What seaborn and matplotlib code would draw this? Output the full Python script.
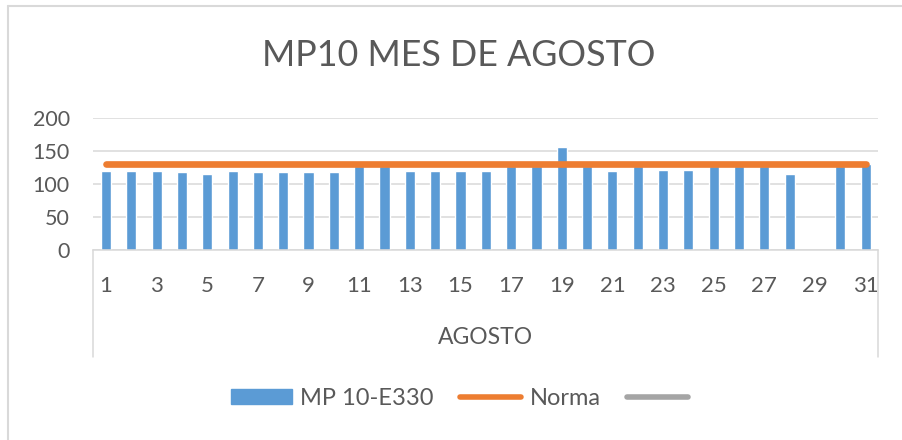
import numpy as np
import pandas as pd
import matplotlib
matplotlib.use("Agg")
import matplotlib.pyplot as plt
import seaborn as sns
from matplotlib.patches import Patch
from matplotlib.lines import Line2D

# ---- data ----
days = [str(d) for d in range(1, 32)]
mp10 = [120, 120, 120, 118, 115, 120, 118, 118, 118, 118,
        127, 127, 120, 120, 120, 120, 127, 127, 157, 127,
        120, 127, 122, 122, 127, 127, 127, 115, np.nan, 127, 130]
norma = [130] * 31
tick_labels = [d if int(d) % 2 == 1 else "" for d in days]
group_label = "AGOSTO"
title = "MP10 MES DE AGOSTO"
series_names = ["MP 10-E330", "Norma", ""]

BLUE = "#5B9BD5"
ORANGE = "#ED7D31"
GRAY = "#A5A5A5"
TXT = "#595959"
GRID = "#D9D9D9"

sns.set_theme(style="white")
plt.rcParams["font.family"] = ["Lato", "DejaVu Sans"]

fig = plt.figure(figsize=(9.02, 4.40), dpi=100)
ax = fig.add_axes([93.3 / 902, 1 - 250 / 440, 785 / 902, 131.7 / 440])

df = pd.DataFrame({"day": days, "value": mp10})
sns.barplot(data=df, x="day", y="value", order=days, color=BLUE,
            width=0.4, saturation=1, ax=ax, zorder=2)
ax.plot(range(len(days)), norma, color=ORANGE, lw=4.8,
        solid_capstyle="round", zorder=3)

ax.set_ylim(0, 200)
ax.set_yticks([0, 50, 100, 150, 200])
ax.set_xlim(-0.5, len(days) - 0.5)
ax.set_xticks(range(len(days)))
ax.set_xticklabels(tick_labels)
ax.set_xlabel("")
ax.set_ylabel("")
ax.set_axisbelow(True)
ax.yaxis.grid(True, color=GRID, lw=1.1)
ax.xaxis.grid(False)
for s in ["top", "right", "left"]:
    ax.spines[s].set_visible(False)
ax.spines["bottom"].set_color(GRID)
ax.spines["bottom"].set_linewidth(1.1)
ax.tick_params(axis="y", length=0, pad=17, labelsize=15.5, labelcolor=TXT)
ax.tick_params(axis="x", length=0, pad=19, labelsize=16, labelcolor=TXT)

# multi-level category axis dividers
for xa in (0, 1):
    ax.plot([xa, xa], [0, -0.81], transform=ax.transAxes, clip_on=False,
            color=GRID, lw=1.1)
ax.text(0.5, -0.668, group_label, transform=ax.transAxes, ha="center",
        va="center", fontsize=16.5, color=TXT)

fig.text(459 / 902, 1 - 55 / 440, title, ha="center", va="center",
         fontsize=25.8, color=TXT)

handles = [Patch(facecolor=BLUE, edgecolor=BLUE),
           Line2D([], [], color=ORANGE, lw=4, solid_capstyle="round"),
           Line2D([], [], color=GRAY, lw=4, solid_capstyle="round")]
fig.legend(handles, series_names, loc="center", bbox_to_anchor=(463.5 / 902, 1 - 398 / 440),
           ncol=3, frameon=False, fontsize=17, handlelength=2.6,
           handleheight=0.6, handletextpad=0.35, columnspacing=1.1,
           labelcolor=TXT)

# chart border
fig.add_artist(Line2D([8 / 902, 1], [1 - 6 / 440, 1 - 6 / 440], color=GRID, lw=1.5))
fig.add_artist(Line2D([8 / 902, 8 / 902], [0, 1 - 6 / 440], color=GRID, lw=1.5))

fig.savefig("out.png", dpi=100)
